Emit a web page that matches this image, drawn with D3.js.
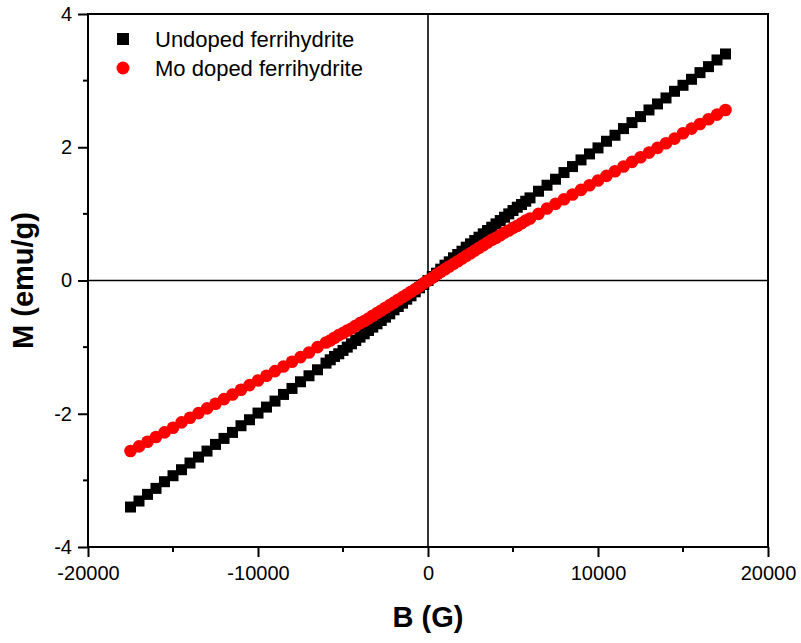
<!DOCTYPE html>
<html>
<head>
<meta charset="utf-8">
<script src="https://cdn.jsdelivr.net/npm/d3@7"></script>
<style>
  body { margin: 0; background: #fff; }
  svg { display: block; font-family: "Liberation Sans", Arial, sans-serif; }
</style>
</head>
<body>
<div id="chart"></div>
<script>
// field values (G), both samples measured at the same points
var fieldB = [-17500,-17000,-16500,-16000,-15500,-15000,-14500,-14000,-13500,-13000,-12500,-12000,
  -11500,-11000,-10500,-10000,-9500,-9000,-8500,-8000,-7500,-7000,-6500,
  -6000,-5750,-5500,-5250,-5000,-4750,-4500,-4250,-4000,-3750,-3500,-3250,-3000,-2750,-2500,-2250,
  -2000,-1750,-1500,-1250,-1000,-750,-500,-250,0,250,500,750,1000,1250,1500,1750,2000,
  2250,2500,2750,3000,3250,3500,3750,4000,4250,4500,4750,5000,5250,5500,5750,6000,
  6500,7000,7500,8000,8500,9000,9500,10000,10500,11000,11500,12000,12500,13000,13500,14000,
  14500,15000,15500,16000,16500,17000,17500];

var undopedM = [-3.40,-3.31,-3.21,-3.12,-3.02,-2.93,-2.84,-2.74,-2.65,-2.56,-2.46,-2.37,
  -2.28,-2.18,-2.09,-1.99,-1.90,-1.81,-1.71,-1.62,-1.52,-1.43,-1.34,
  -1.24,-1.19,-1.14,-1.10,-1.05,-1.00,-0.95,-0.90,-0.85,-0.80,-0.75,-0.70,-0.65,-0.60,-0.55,-0.50,
  -0.44,-0.39,-0.34,-0.28,-0.23,-0.17,-0.11,-0.06,0.00,0.06,0.11,0.17,0.23,0.28,0.34,0.39,0.44,
  0.50,0.55,0.60,0.65,0.70,0.75,0.80,0.85,0.90,0.95,1.00,1.05,1.10,1.14,1.19,1.24,
  1.34,1.43,1.52,1.62,1.71,1.81,1.90,1.99,2.09,2.18,2.28,2.37,2.46,2.56,2.65,2.74,
  2.84,2.93,3.02,3.12,3.21,3.31,3.40];

var moDopedM = [-2.56,-2.49,-2.42,-2.35,-2.28,-2.21,-2.13,-2.06,-1.99,-1.92,-1.85,-1.78,
  -1.71,-1.64,-1.57,-1.50,-1.43,-1.36,-1.29,-1.22,-1.15,-1.08,-1.00,
  -0.93,-0.90,-0.86,-0.82,-0.79,-0.75,-0.72,-0.68,-0.64,-0.61,-0.57,-0.53,-0.49,-0.45,-0.41,-0.37,
  -0.33,-0.29,-0.25,-0.21,-0.17,-0.13,-0.09,-0.04,0.00,0.04,0.09,0.13,0.17,0.21,0.25,0.29,0.33,
  0.37,0.41,0.45,0.49,0.53,0.57,0.61,0.64,0.68,0.72,0.75,0.79,0.82,0.86,0.90,0.93,
  1.00,1.08,1.15,1.22,1.29,1.36,1.43,1.50,1.57,1.64,1.71,1.78,1.85,1.92,1.99,2.06,
  2.13,2.21,2.28,2.35,2.42,2.49,2.56];

var seriesNames = ["Undoped ferrihydrite", "Mo doped ferrihydrite"];
var xTicks = [-20000, -10000, 0, 10000, 20000];
var xMinor = [-15000, -5000, 5000, 15000];
var yTicks = [-4, -2, 0, 2, 4];
var yMinor = [-3, -1, 1, 3];

var width = 801, height = 643,
    margin = ({ top: 14, right: 33, bottom: 96, left: 88 });

var svg = d3.select("#chart").append("svg")
    .attr("width", width)
    .attr("height", height);

var x = d3.scaleLinear().domain([-20000, 20000]).range([margin.left, width - margin.right]);
var y = d3.scaleLinear().domain([-4, 4]).range([height - margin.bottom, margin.top]);

var plain = d => String(d); // hyphen minus like the original

// bottom axis
var xAxis = svg.append("g")
    .attr("transform", "translate(0," + y(-4) + ")")
    .call(d3.axisBottom(x).tickValues(xTicks).tickSize(10).tickPadding(9).tickFormat(plain));
xAxis.append("g").selectAll("line").data(xMinor).join("line")
    .attr("x1", d => x(d)).attr("x2", d => x(d))
    .attr("y1", 0).attr("y2", 5).attr("stroke", "#000").attr("stroke-width", 2);

// left axis
var yAxis = svg.append("g")
    .attr("transform", "translate(" + x(-20000) + ",0)")
    .call(d3.axisLeft(y).tickValues(yTicks).tickSize(10).tickPadding(6).tickFormat(plain));
yAxis.append("g").selectAll("line").data(yMinor).join("line")
    .attr("y1", d => y(d)).attr("y2", d => y(d))
    .attr("x1", 0).attr("x2", -5).attr("stroke", "#000").attr("stroke-width", 2);

[xAxis, yAxis].forEach(function(a) {
  a.select(".domain").remove();
  a.selectAll(".tick line").attr("stroke-width", 2);
  a.selectAll("text").attr("font-size", 20).attr("fill", "#000")
    .attr("font-family", "Liberation Sans, Arial, sans-serif");
});

// frame
svg.append("rect")
    .attr("x", x(-20000)).attr("y", y(4))
    .attr("width", x(20000) - x(-20000)).attr("height", y(-4) - y(4))
    .attr("fill", "none").attr("stroke", "#000").attr("stroke-width", 2);

// zero lines
svg.append("line")
    .attr("x1", x(0)).attr("x2", x(0)).attr("y1", y(4)).attr("y2", y(-4))
    .attr("stroke", "#000").attr("stroke-width", 1.6);
svg.append("line")
    .attr("x1", x(-20000)).attr("x2", x(20000)).attr("y1", y(0)).attr("y2", y(0))
    .attr("stroke", "#000").attr("stroke-width", 1.6);

// undoped: black squares
var sq = 11;
svg.append("g").attr("fill", "#000")
    .selectAll("rect").data(fieldB).join("rect")
    .attr("x", (d, i) => x(d) - sq / 2)
    .attr("y", (d, i) => y(undopedM[i]) - sq / 2)
    .attr("width", sq).attr("height", sq);

// Mo doped: red circles
svg.append("g").attr("fill", "#ff0000")
    .selectAll("circle").data(fieldB).join("circle")
    .attr("cx", (d, i) => x(d))
    .attr("cy", (d, i) => y(moDopedM[i]))
    .attr("r", 6.3);

// legend
var leg = svg.append("g");
leg.append("rect").attr("x", 117).attr("y", 33).attr("width", 12).attr("height", 12).attr("fill", "#000");
leg.append("circle").attr("cx", 123).attr("cy", 68).attr("r", 6.5).attr("fill", "#ff0000");
leg.selectAll("text").data(seriesNames).join("text")
    .attr("x", 155)
    .attr("y", (d, i) => 47 + i * 29)
    .attr("font-size", 22)
    .text(d => d);

// axis titles
svg.append("text")
    .attr("x", x(0)).attr("y", 627)
    .attr("text-anchor", "middle")
    .attr("font-size", 29).attr("font-weight", "bold")
    .text("B (G)");
svg.append("text")
    .attr("transform", "translate(33," + y(0) + ") rotate(-90)")
    .attr("text-anchor", "middle")
    .attr("font-size", 29).attr("font-weight", "bold")
    .text("M (emu/g)");
</script>
</body>
</html>
